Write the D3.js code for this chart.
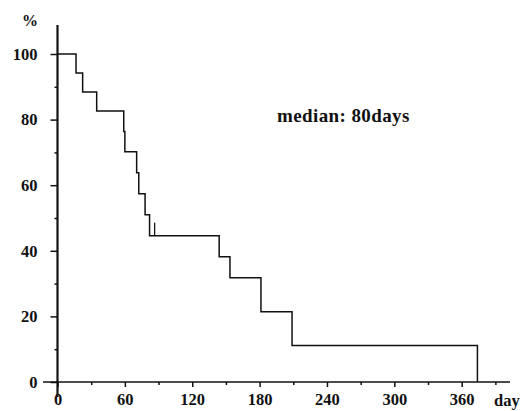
<!DOCTYPE html>
<html>
<head>
<meta charset="utf-8">
<script src="https://cdn.jsdelivr.net/npm/d3@7"></script>
<style>
  body { margin: 0; background: #fff; }
  svg text { font-family: "Liberation Serif", "DejaVu Serif", serif; font-weight: bold; fill: #111; }
</style>
</head>
<body>
<svg id="chart" width="523" height="411"></svg>
<script>
// survival curve (day, % surviving)
var days = [0, 16.5, 22.4, 34.9, 59, 60, 70.5, 72.4, 78, 82, 144, 153.6, 181.2, 208.9, 374];
var survival = [100, 94.2, 88.4, 82.6, 76.4, 70.2, 63.8, 57.4, 51, 44.6, 38.2, 31.8, 21.4, 11.1, 0];
// censored observation
var censorDay = [86.5];
var censorSurv = [44.6];

var xTicks = [0, 60, 120, 180, 240, 300, 360];
var xMinor = [30, 90, 150, 210, 270, 330, 390];
var yTicks = [0, 20, 40, 60, 80, 100];
var yMinor = [10, 30, 50, 70, 90];

var svg = d3.select("#chart");

// set the ranges
var x = d3.scaleLinear().domain([0, 360]).range([57.5, 461.7]);
var y = d3.scaleLinear().domain([0, 100]).range([382, 54]);

var ink = "#111";

// axis lines (drawn past the origin like the original)
svg.append("line")
  .attr("x1", x(0)).attr("x2", x(0))
  .attr("y1", 25).attr("y2", 397)
  .attr("stroke", ink).attr("stroke-width", 2.2);
svg.append("line")
  .attr("x1", 43).attr("x2", 510)
  .attr("y1", y(0)).attr("y2", y(0))
  .attr("stroke", ink).attr("stroke-width", 1.6);

// Y axis
var yAxis = svg.append("g")
  .attr("transform", "translate(" + x(0) + ",0)")
  .call(d3.axisLeft(y).tickValues(yTicks).tickSize(7).tickPadding(13));
yAxis.select(".domain").remove();
yAxis.selectAll("line").attr("stroke", ink).attr("stroke-width", 1.5);
yAxis.selectAll("text").style("font-size", "16.5px").attr("fill", ink);

var yAxisMinor = svg.append("g")
  .attr("transform", "translate(" + x(0) + ",0)")
  .call(d3.axisLeft(y).tickValues(yMinor).tickSize(3).tickFormat(""));
yAxisMinor.select(".domain").remove();
yAxisMinor.selectAll("line").attr("stroke", ink).attr("stroke-width", 1.5);

// X axis
var xAxis = svg.append("g")
  .attr("transform", "translate(0," + y(0) + ")")
  .call(d3.axisBottom(x).tickValues(xTicks).tickSize(5).tickPadding(6));
xAxis.select(".domain").remove();
xAxis.selectAll("line").attr("stroke", ink).attr("stroke-width", 1.5);
xAxis.selectAll("text").style("font-size", "16.5px").attr("fill", ink);

var xAxisMinor = svg.append("g")
  .attr("transform", "translate(0," + y(0) + ")")
  .call(d3.axisBottom(x).tickValues(xMinor).tickSize(3).tickFormat(""));
xAxisMinor.select(".domain").remove();
xAxisMinor.selectAll("line").attr("stroke", ink).attr("stroke-width", 1.5);

// step curve
var pts = days.map(function(d, i) { return [d, survival[i]]; });
var line = d3.line()
  .x(function(d) { return x(d[0]); })
  .y(function(d) { return y(d[1]); })
  .curve(d3.curveStepAfter);

svg.append("path")
  .datum(pts)
  .attr("d", line)
  .attr("fill", "none")
  .attr("stroke", ink)
  .attr("stroke-width", 1.5);

// censor tick
svg.selectAll(".censor")
  .data(censorDay)
  .enter().append("line")
  .attr("class", "censor")
  .attr("x1", function(d) { return x(d); })
  .attr("x2", function(d) { return x(d); })
  .attr("y1", function(d, i) { return y(censorSurv[i]); })
  .attr("y2", function(d, i) { return y(censorSurv[i]) - 13; })
  .attr("stroke", ink)
  .attr("stroke-width", 1.3);

// labels
svg.append("text")
  .attr("x", 22).attr("y", 26)
  .style("font-size", "16px")
  .text("%");

svg.append("text")
  .attr("x", 494).attr("y", 406)
  .style("font-size", "16.5px")
  .text("day");

svg.append("text")
  .attr("x", 277).attr("y", 122)
  .style("font-size", "19px")
  .style("letter-spacing", "0.4px")
  .text("median: 80days");
</script>
</body>
</html>
